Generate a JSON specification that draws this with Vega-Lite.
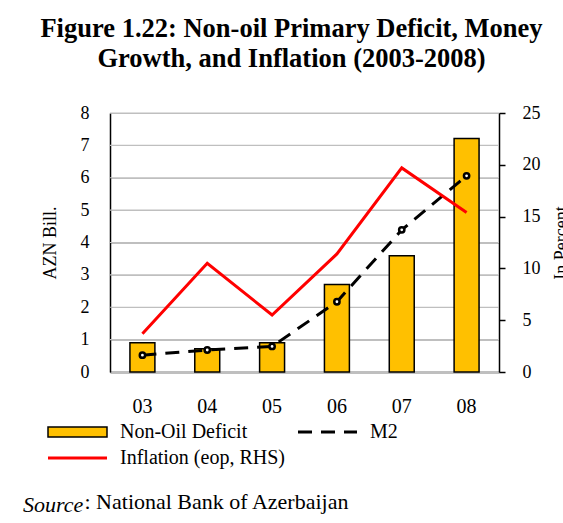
{
  "$schema": "https://vega.github.io/schema/vega-lite/v6.json",
  "width": 389,
  "height": 259,
  "autosize": {"type": "none"},
  "padding": {"left": 110, "top": 113, "right": 64, "bottom": 151},
  "background": "white",
  "config": {
    "font": "Liberation Serif",
    "view": {"stroke": null},
    "axis": {
      "labelFont": "Liberation Serif",
      "titleFont": "Liberation Serif",
      "labelColor": "black",
      "titleColor": "black",
      "labelFontSize": 18,
      "titleFontSize": 18,
      "titleFontWeight": "normal"
    },
    "legend": {
      "orient": "none",
      "padding": 0,
      "symbolSize": 100,
      "labelOffset": 77,
      "labelFont": "Liberation Serif",
      "labelFontSize": 20,
      "labelColor": "black",
      "labelLimit": 300,
      "symbolFillColor": "transparent"
    }
  },
  "title": {
    "text": ["Figure 1.22: Non-oil Primary Deficit, Money", "Growth, and Inflation (2003-2008)"],
    "font": "Liberation Serif",
    "fontSize": 26.5,
    "fontWeight": "bold",
    "color": "black",
    "anchor": "middle",
    "dx": -13,
    "offset": 32,
    "lineHeight": 29.5
  },
  "datasets": {
    "gridlevels": [
      {"level": 1}, {"level": 2}, {"level": 3}, {"level": 4},
      {"level": 5}, {"level": 6}, {"level": 7}, {"level": 8}
    ]
  },
  "data": {
    "values": [
      {"year": "03", "deficit": 0.9, "m2": 0.52, "inflation": 3.7},
      {"year": "04", "deficit": 0.72, "m2": 0.68, "inflation": 10.5},
      {"year": "05", "deficit": 0.9, "m2": 0.79, "inflation": 5.5},
      {"year": "06", "deficit": 2.7, "m2": 2.17, "inflation": 11.4},
      {"year": "07", "deficit": 3.59, "m2": 4.39, "inflation": 19.7},
      {"year": "08", "deficit": 7.21, "m2": 6.06, "inflation": 15.4}
    ]
  },
  "layer": [
    {
      "data": {"name": "gridlevels"},
      "mark": {"type": "rule", "stroke": "#BFBFBF", "strokeWidth": 1.2, "opacity": 1},
      "encoding": {
        "y": {"field": "level", "type": "quantitative", "scale": {"domain": [0, 8], "nice": false}, "axis": null}
      }
    },
    {
      "mark": {"type": "bar", "stroke": "black", "strokeWidth": 1.5, "width": {"band": 0.385}},
      "encoding": {
        "x": {
          "field": "year",
          "type": "ordinal",
          "scale": {"paddingInner": 0, "paddingOuter": 0},
          "axis": {
            "orient": "bottom",
            "title": ": National Bank of Azerbaijan",
            "titleFontSize": 22,
            "titleX": -26,
            "titleY": 136,
            "titleAnchor": "start",
            "titleAlign": "left",
            "titleBaseline": "alphabetic",
            "labelAngle": 0,
            "labelFontSize": 20,
            "labelPadding": 24,
            "ticks": false,
            "domainColor": "black",
            "domainWidth": 1.5,
            "grid": false
          }
        },
        "y": {
          "field": "deficit",
          "type": "quantitative",
          "scale": {"domain": [0, 8], "nice": false},
          "axis": {
            "orient": "left",
            "title": "AZN Bill.",
            "values": [0, 1, 2, 3, 4, 5, 6, 7, 8],
            "labelOverlap": false,
            "ticks": true,
            "tickSize": -389,
            "tickColor": "#BFBFBF",
            "tickWidth": 1.2,
            "labelPadding": 410,
            "titlePadding": 21,
            "domainColor": "black",
            "domainWidth": 1.5,
            "grid": false
          }
        },
        "fill": {
          "datum": "Non-Oil Deficit",
          "scale": {"domain": ["Non-Oil Deficit"], "range": ["#FFC000"]},
          "legend": {
            "title": null,
            "legendX": -87,
            "legendY": 309,
            "symbolType": "M3,-1L14.8,-1L14.8,1L3,1Z",
            "symbolStrokeColor": "black",
            "symbolStrokeWidth": 1.5,
            "symbolFillColor": "#FFC000",
            "symbolOpacity": 1
          }
        }
      }
    },
    {
      "mark": {"type": "line", "color": "black", "strokeWidth": 3},
      "encoding": {
        "x": {"field": "year", "type": "ordinal"},
        "y": {"field": "m2", "type": "quantitative", "scale": {"domain": [0, 8], "nice": false}, "axis": null},
        "strokeDash": {
          "datum": "M2",
          "scale": {"domain": ["M2"], "range": [[14, 9]]},
          "legend": {
            "title": null,
            "legendX": 163,
            "legendY": 309,
            "symbolType": "M3,0L14.8,0",
            "symbolStrokeColor": "black",
            "symbolStrokeWidth": 3,
            "symbolOpacity": 1
          }
        }
      }
    },
    {
      "mark": {"type": "point", "filled": true, "fill": "white", "stroke": "black", "strokeWidth": 2.5, "size": 28, "opacity": 1},
      "encoding": {
        "x": {"field": "year", "type": "ordinal"},
        "y": {"field": "m2", "type": "quantitative", "scale": {"domain": [0, 8], "nice": false}, "axis": null}
      }
    },
    {
      "mark": {"type": "line", "strokeWidth": 3},
      "encoding": {
        "x": {"field": "year", "type": "ordinal"},
        "y": {
          "field": "inflation",
          "type": "quantitative",
          "scale": {"domain": [0, 25], "nice": false},
          "axis": {
            "orient": "right",
            "title": "In Percent",
            "titleAngle": 270,
            "values": [0, 5, 10, 15, 20, 25],
            "tickSize": 6,
            "tickColor": "black",
            "tickWidth": 1.5,
            "labelPadding": 17,
            "titlePadding": 30,
            "domainColor": "black",
            "domainWidth": 1.5,
            "grid": false,
            "encode": {"ticks": {"update": {"x": {"value": -6}}}}
          }
        },
        "stroke": {
          "datum": "Inflation (eop, RHS)",
          "scale": {"domain": ["Inflation (eop, RHS)"], "range": ["#FF0000"]},
          "legend": {
            "title": "Source",
            "titleOrient": "bottom",
            "titleAnchor": "start",
            "titleFont": "Liberation Serif",
            "titleFontSize": 22,
            "titleFontStyle": "italic",
            "titleFontWeight": "normal",
            "titleColor": "black",
            "titlePadding": 27,
            "legendX": -87,
            "legendY": 335,
            "symbolType": "M3,0L14.8,0",
            "symbolStrokeWidth": 3,
            "symbolOpacity": 1
          }
        }
      }
    }
  ],
  "resolve": {"scale": {"y": "independent"}}
}
